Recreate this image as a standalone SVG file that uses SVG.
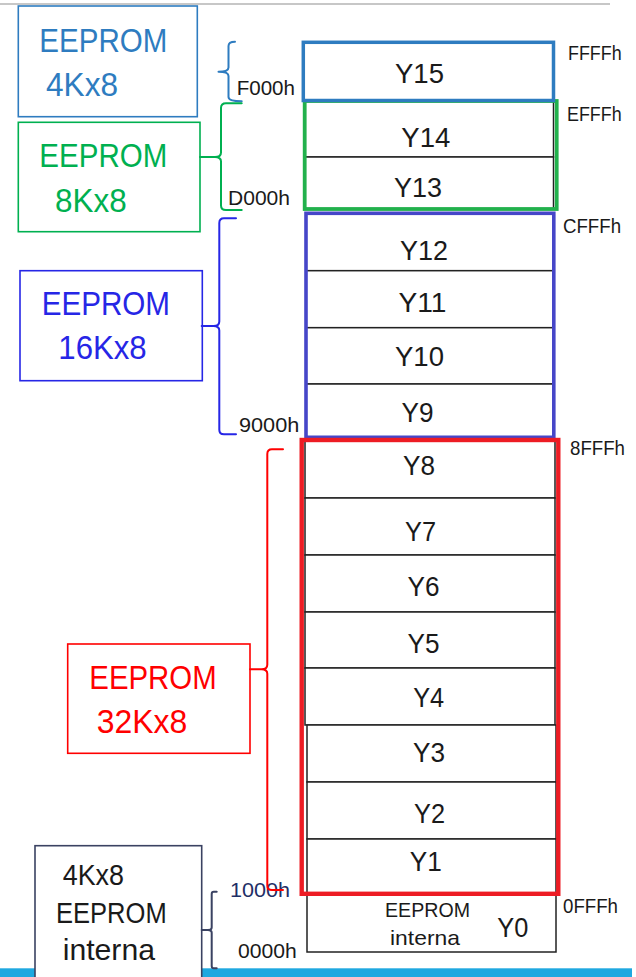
<svg xmlns="http://www.w3.org/2000/svg" width="636" height="977" viewBox="0 0 636 977">
<style>
text{font-family:"Liberation Sans",Arial,sans-serif;fill:#1a1a1a}
.cell{fill:#fff;stroke:#222;stroke-width:1.5}
.y{font-size:27px;text-anchor:middle}
.addr{font-size:20px}
.big{font-size:34px}
.mid{font-size:29px}
.brace{fill:none;stroke-width:2;stroke-linejoin:round;stroke-linecap:round}
.lbl{fill:#fff;stroke-width:1.6}
</style>
<rect width="636" height="977" fill="#fff"/>
<line x1="0" y1="4" x2="610" y2="4" stroke="#b4b4b4" stroke-width="1.5"/>
<rect x="0" y="968.3" width="632" height="9" fill="#1fa8e0"/>

<g id="memory">
  <g id="y15"><rect class="cell" x="303.3" y="42.3" width="250.2" height="58"/><text class="y" x="419.5" y="83" textLength="49" lengthAdjust="spacingAndGlyphs">Y15</text></g>
  <g id="y14"><rect class="cell" x="304.7" y="101" width="248.8" height="56"/><text class="y" x="425.8" y="146.7" textLength="49" lengthAdjust="spacingAndGlyphs">Y14</text></g>
  <g id="y13"><rect class="cell" x="304.7" y="157" width="248.8" height="52"/><text class="y" x="418" y="197" textLength="48" lengthAdjust="spacingAndGlyphs">Y13</text></g>
  <g id="y12"><rect class="cell" x="306" y="213.3" width="247.8" height="57.4"/><text class="y" x="424" y="260" textLength="48" lengthAdjust="spacingAndGlyphs">Y12</text></g>
  <g id="y11"><rect class="cell" x="306" y="270.7" width="247.8" height="57"/><text class="y" x="422.5" y="311.7" textLength="48" lengthAdjust="spacingAndGlyphs">Y11</text></g>
  <g id="y10"><rect class="cell" x="306" y="327.7" width="247.8" height="56.3"/><text class="y" x="419.5" y="365.7" textLength="49" lengthAdjust="spacingAndGlyphs">Y10</text></g>
  <g id="y9"><rect class="cell" x="306" y="384" width="247.8" height="53.2"/><text class="y" x="417.5" y="421.7" textLength="32" lengthAdjust="spacingAndGlyphs">Y9</text></g>
  <g id="y8"><rect class="cell" x="305" y="440" width="250" height="58"/><text class="y" x="419" y="475" textLength="32" lengthAdjust="spacingAndGlyphs">Y8</text></g>
  <g id="y7"><rect class="cell" x="305" y="498" width="250" height="57"/><text class="y" x="420.5" y="540.7" textLength="31" lengthAdjust="spacingAndGlyphs">Y7</text></g>
  <g id="y6"><rect class="cell" x="305" y="555" width="250" height="57"/><text class="y" x="423.5" y="596" textLength="32" lengthAdjust="spacingAndGlyphs">Y6</text></g>
  <g id="y5"><rect class="cell" x="305" y="612" width="250" height="56"/><text class="y" x="423.5" y="652.7" textLength="32" lengthAdjust="spacingAndGlyphs">Y5</text></g>
  <g id="y4"><rect class="cell" x="305" y="668" width="250" height="57"/><text class="y" x="428.7" y="707.3" textLength="31" lengthAdjust="spacingAndGlyphs">Y4</text></g>
  <g id="y3"><rect class="cell" x="307" y="725" width="249" height="57"/><text class="y" x="429" y="761.7" textLength="32" lengthAdjust="spacingAndGlyphs">Y3</text></g>
  <g id="y2"><rect class="cell" x="307" y="782" width="249" height="57"/><text class="y" x="429.5" y="823.3" textLength="31" lengthAdjust="spacingAndGlyphs">Y2</text></g>
  <g id="y1"><rect class="cell" x="307" y="839" width="249" height="55"/><text class="y" x="425.8" y="870.7" textLength="32" lengthAdjust="spacingAndGlyphs">Y1</text></g>
  <g id="y0"><rect class="cell" x="307" y="894" width="249" height="58"/>
    <text x="427.5" y="916.7" font-size="21" text-anchor="middle" textLength="85" lengthAdjust="spacingAndGlyphs">EEPROM</text>
    <text x="425" y="945" font-size="21" text-anchor="middle" textLength="70" lengthAdjust="spacingAndGlyphs">interna</text>
    <text class="y" x="512.8" y="936.7" textLength="31" lengthAdjust="spacingAndGlyphs">Y0</text></g>
</g>

<g id="region-borders" fill="none">
  <rect id="border-8k" x="304.7" y="101" width="252" height="108" stroke="#22b14c" stroke-width="3.8"/>
  <rect id="border-4k" x="303.3" y="42.3" width="250.2" height="58.2" stroke="#2e7cc0" stroke-width="3.5"/>
  <rect id="border-16k" x="306" y="213.3" width="247.8" height="224" stroke="#4646c8" stroke-width="3.6"/>
  <rect id="border-32k" x="301.7" y="440" width="256.6" height="453.8" stroke="#ed1c24" stroke-width="4.4"/>
</g>

<g id="addresses">
  <text class="addr" x="568" y="60" textLength="53.7" lengthAdjust="spacingAndGlyphs">FFFFh</text>
  <text class="addr" x="567" y="120.7" textLength="54.7" lengthAdjust="spacingAndGlyphs">EFFFh</text>
  <text class="addr" x="563" y="233.3" textLength="58" lengthAdjust="spacingAndGlyphs">CFFFh</text>
  <text class="addr" x="570" y="454.5" textLength="55" lengthAdjust="spacingAndGlyphs">8FFFh</text>
  <text class="addr" x="563" y="913" textLength="55" lengthAdjust="spacingAndGlyphs">0FFFh</text>
  <text class="addr" x="236.7" y="95" textLength="58.3" lengthAdjust="spacingAndGlyphs">F000h</text>
  <text class="addr" x="228" y="205" textLength="62" lengthAdjust="spacingAndGlyphs">D000h</text>
  <text class="addr" x="239" y="431.7" textLength="60.3" lengthAdjust="spacingAndGlyphs">9000h</text>
  <text class="addr" x="230" y="896.7" textLength="60" lengthAdjust="spacingAndGlyphs" style="fill:#1f2f66">1000h</text>
  <text class="addr" x="238" y="958" textLength="58.7" lengthAdjust="spacingAndGlyphs">0000h</text>
</g>

<g id="box-4k">
  <rect class="lbl" x="18.3" y="6" width="179" height="110.7" stroke="#2e7cc0"/>
  <text class="big" x="39.3" y="51.7" textLength="128" lengthAdjust="spacingAndGlyphs" style="fill:#2e7cc0">EEPROM</text>
  <text class="big" x="46" y="96" textLength="72" lengthAdjust="spacingAndGlyphs" style="fill:#2e7cc0">4Kx8</text>
</g>
<g id="box-8k">
  <rect class="lbl" x="18.3" y="122.3" width="181.7" height="109.4" stroke="#00b050"/>
  <text class="big" x="39.3" y="166.7" textLength="128" lengthAdjust="spacingAndGlyphs" style="fill:#00b050">EEPROM</text>
  <text class="big" x="55" y="211.7" textLength="71.7" lengthAdjust="spacingAndGlyphs" style="fill:#00b050">8Kx8</text>
</g>
<g id="box-16k">
  <rect class="lbl" x="20" y="270.7" width="182.3" height="110" stroke="#2626e6"/>
  <text class="big" x="41.7" y="315" textLength="128.3" lengthAdjust="spacingAndGlyphs" style="fill:#2626e6">EEPROM</text>
  <text class="big" x="58.3" y="359.3" textLength="88.4" lengthAdjust="spacingAndGlyphs" style="fill:#2626e6">16Kx8</text>
</g>
<g id="box-32k">
  <rect class="lbl" x="67.7" y="644" width="182.3" height="109.3" stroke="#ff0000"/>
  <text class="big" x="89.3" y="689" textLength="127.4" lengthAdjust="spacingAndGlyphs" style="fill:#ff0000">EEPROM</text>
  <text class="big" x="96.7" y="733.3" textLength="90.6" lengthAdjust="spacingAndGlyphs" style="fill:#ff0000">32Kx8</text>
</g>
<g id="box-internal">
  <rect class="lbl" x="35" y="845.7" width="166.7" height="140" stroke="#3a4262"/>
  <text class="mid" x="62.7" y="885" textLength="61.3" lengthAdjust="spacingAndGlyphs">4Kx8</text>
  <text class="mid" x="56" y="923.3" textLength="110.7" lengthAdjust="spacingAndGlyphs">EEPROM</text>
  <text class="mid" x="62.7" y="960" textLength="92.3" lengthAdjust="spacingAndGlyphs">interna</text>
</g>

<g id="connectors">
  <path class="brace" stroke="#2e7cc0" d="M235,41.7 Q228.5,41.7 228.5,46 L228.5,67.5 Q228.5,71.7 218.5,71.7 Q228.5,71.7 228.5,76 L228.5,97 Q228.5,101.3 241.7,101.3"/>
  <path class="brace" stroke="#00b050" d="M241.7,103.3 L226,103.3 Q221,103.3 221,108 L221,152.5 Q221,157 215,157 L200,157 M215,157 Q221,157 221,161.5 L221,205.5 Q221,210 226,210 L241.7,210"/>
  <path class="brace" stroke="#2626e6" d="M236,218.3 L224,218.3 Q219.3,218.3 219.3,223 L219.3,321.5 Q219.3,326 213.5,326 L201.7,326 M213.5,326 Q219.3,326 219.3,330.5 L219.3,429.8 Q219.3,434.3 224,434.3 L236,434.3"/>
  <path class="brace" stroke="#ff0000" d="M283,449.3 L272,449.3 Q267.3,449.3 267.3,454 L267.3,664.8 Q267.3,669.3 261.5,669.3 L250,669.3 M261.5,669.3 Q267.3,669.3 267.3,673.8 L267.3,885.5 Q267.3,890 272,890 L283,890"/>
  <path class="brace" stroke="#3a4262" d="M216.7,891.7 L213.7,891.7 Q211.7,891.7 211.7,894 L211.7,927.5 Q211.7,930 208,930 L201.7,930 M208,930 Q211.7,930 211.7,932.5 L211.7,966 Q211.7,968.3 213.7,968.3 L216.7,968.3"/>
</g>
</svg>
